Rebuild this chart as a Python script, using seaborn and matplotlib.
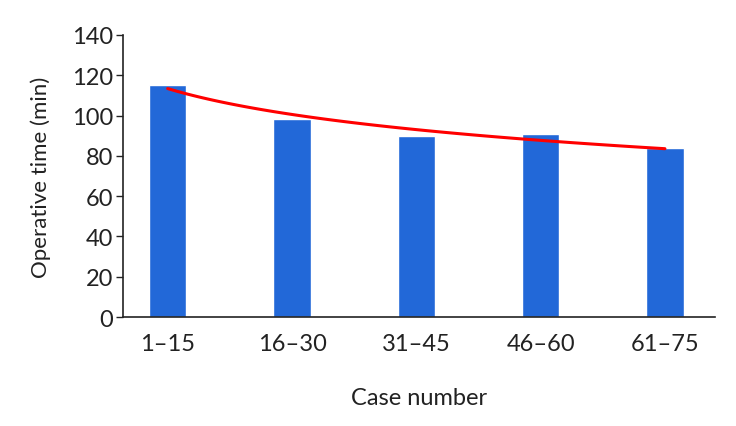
import numpy as np
import pandas as pd
import matplotlib
matplotlib.use("Agg")
import matplotlib.pyplot as plt
import seaborn as sns

# data
case_groups = ["1–15", "16–30", "31–45", "46–60", "61–75"]
op_time = [115.2, 98.3, 89.8, 90.9, 83.9]

sns.set_style("white")
plt.rcParams["font.family"] = ["Lato", "DejaVu Sans"]
plt.rcParams["text.color"] = "#222222"
plt.rcParams["axes.labelcolor"] = "#222222"
plt.rcParams["xtick.color"] = "#222222"
plt.rcParams["ytick.color"] = "#222222"

df = pd.DataFrame({"case": case_groups, "time": op_time})

fig = plt.figure(figsize=(7.36, 4.27), dpi=100)
ax = fig.add_axes([0.167, 0.255, 0.804, 0.661])

sns.barplot(data=df, x="case", y="time", color="#2268d8", saturation=1,
            width=0.3, ax=ax)

# logarithmic trend line (Excel style), fitted on the bar values
idx = np.arange(1, len(op_time) + 1)
b, a = np.polyfit(np.log(idx), op_time, 1)
xs = np.linspace(1, len(op_time), 100)
trend = pd.DataFrame({"x": xs - 1, "y": a + b * np.log(xs)})
sns.lineplot(data=trend, x="x", y="y", color="#ff0000", linewidth=2.2, ax=ax)

ax.set_ylim(0, 140)
ax.set_xlim(-0.36, 4.4)
ax.set_yticks(range(0, 141, 20))
ax.set_xlabel("Case number", fontsize=17, labelpad=24)
ax.set_ylabel("Operative time (min)", fontsize=16, labelpad=15)
ax.tick_params(axis="y", left=True, length=5, width=1, labelsize=17, pad=2)
ax.tick_params(axis="x", bottom=False, labelsize=17, pad=8)
sns.despine(ax=ax)
for s in ["left", "bottom"]:
    ax.spines[s].set_color("#222222")
    ax.spines[s].set_linewidth(1.2)

fig.savefig("out.png", dpi=100)
